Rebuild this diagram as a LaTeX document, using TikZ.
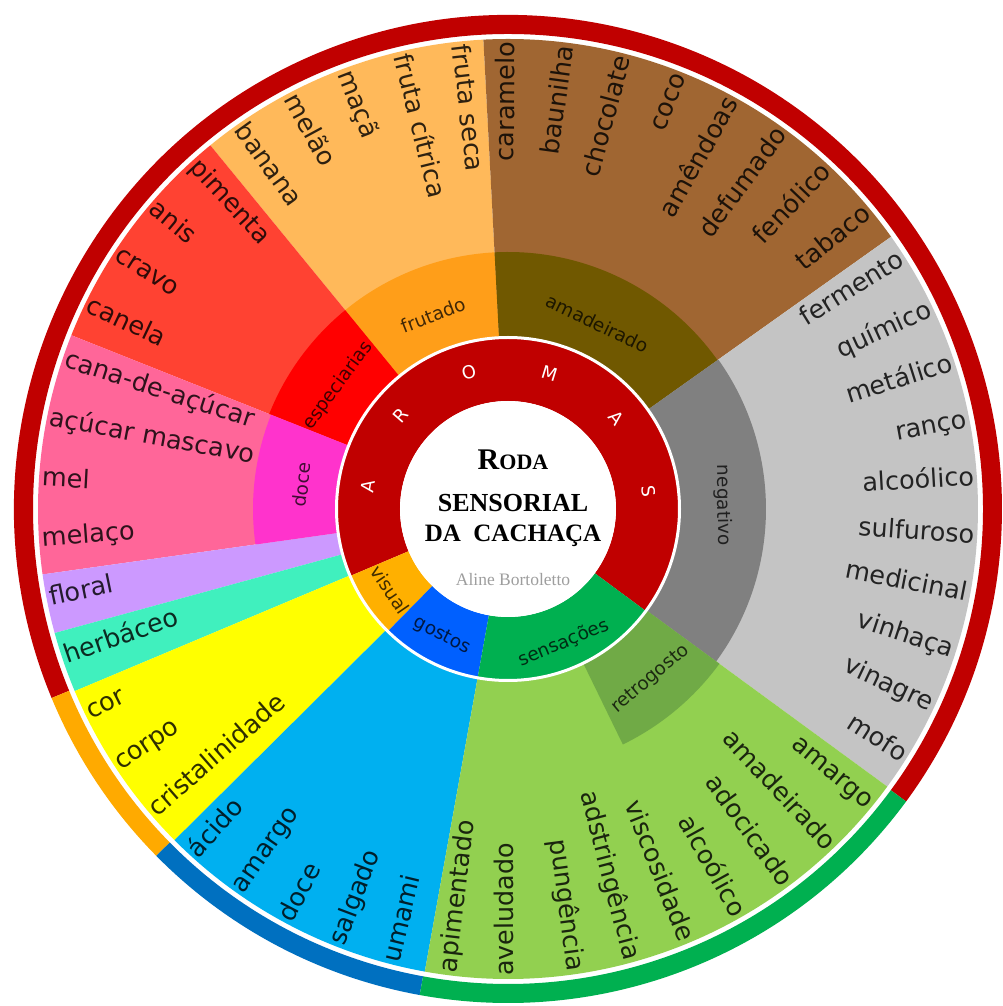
\documentclass[tikz,border=0pt]{standalone}
\usepackage{fontspec}
\newfontfamily\lab{DejaVu Sans}
\newfontfamily\ttl{Liberation Serif}
\definecolor{bandred}{RGB}{192,0,0}
\definecolor{bandorange}{RGB}{255,170,0}
\definecolor{bandblue}{RGB}{0,112,192}
\definecolor{bandgreen}{RGB}{0,176,80}
\definecolor{frutL}{RGB}{255,185,90}
\definecolor{frutC}{RGB}{255,158,25}
\definecolor{amadL}{RGB}{160,102,50}
\definecolor{amadC}{RGB}{112,88,0}
\definecolor{negL}{RGB}{196,196,196}
\definecolor{negC}{RGB}{128,128,128}
\definecolor{espL}{RGB}{255,66,50}
\definecolor{espC}{RGB}{255,0,0}
\definecolor{doceL}{RGB}{255,102,153}
\definecolor{doceC}{RGB}{255,51,204}
\definecolor{floralL}{RGB}{204,153,255}
\definecolor{herbL}{RGB}{64,240,190}
\definecolor{visL}{RGB}{255,255,0}
\definecolor{visC}{RGB}{255,176,0}
\definecolor{gosL}{RGB}{0,176,240}
\definecolor{gosC}{RGB}{0,96,255}
\definecolor{senL}{RGB}{146,208,80}
\definecolor{senC}{RGB}{0,176,80}
\definecolor{retroC}{RGB}{112,170,70}
\newcommand\annseg[5]{\fill[#1] (#2:#4pt) arc[start angle=#2,end angle=#3,radius=#4pt] -- (#3:#5pt) arc[start angle=#3,end angle=#2,radius=#5pt] -- cycle;}
\tikzset{
  leaf/.style={font=\lab\fontsize{25.5}{30}\selectfont, text=black, text opacity=0.82, inner sep=0pt, outer sep=0pt},
  catlab/.style={font=\lab\fontsize{18.5}{22}\selectfont, text=black, text opacity=0.75, inner sep=0pt},
  ringletter/.style={font=\lab\fontsize{18}{20}\selectfont, text=white, inner sep=0pt}
}
\newcommand\leafR[3]{\node[leaf,anchor=mid east,rotate=#2] (#1) at (#2:467pt) {#3};}
\newcommand\leafL[3]{\node[leaf,anchor=mid west,rotate=#2+180] (#1) at (#2:467pt) {#3};}
\begin{document}
\begin{tikzpicture}
\useasboundingbox (-508pt,-497pt) rectangle (494pt,509pt);
\fill[white] (-508pt,-497pt) rectangle (494pt,509pt);
% outer band
\annseg{bandred}{-36.3}{202.5}{475}{494}
\annseg{bandorange}{202.5}{224.6}{475}{494}
\annseg{bandblue}{224.6}{259.7}{475}{494}
\annseg{bandgreen}{259.7}{323.7}{475}{494}
% leaf wedges
\annseg{frutL}{93}{129.3}{172}{470}
\annseg{amadL}{35.4}{93}{172}{470}
\annseg{negL}{-36.2}{35.4}{172}{470}
\annseg{espL}{129.3}{158.3}{172}{470}
\annseg{doceL}{158.3}{188}{172}{470}
\annseg{floralL}{188}{195.3}{172}{470}
\annseg{herbL}{195.3}{202.8}{172}{470}
\annseg{visL}{202.8}{224.8}{172}{470}
\annseg{gosL}{224.8}{259.8}{172}{470}
\annseg{senL}{259.8}{323.8}{172}{470}
% category ring
\annseg{frutC}{93}{129.3}{172}{257}
\annseg{amadC}{35.4}{93}{172}{257}
\annseg{negC}{-36.2}{35.4}{172}{258}
\annseg{espC}{129.3}{158.3}{172}{257}
\annseg{doceC}{158.3}{188}{172}{255}
\annseg{retroC}{-64}{-36.2}{172}{262}
% inner ring
\annseg{bandred}{-36.5}{203}{108}{171}
\annseg{visC}{203}{225.5}{108}{171}
\annseg{gosC}{225.5}{259.8}{108}{171}
\annseg{senC}{259.8}{323.5}{108}{171}
\draw[white,line width=3pt] (0,0) circle (171.5pt);
\fill[white] (0,0) circle (108pt);
% AROMAS
\node[ringletter,rotate=81] (rA1) at (171:142pt) {A};
\node[ringletter,rotate=49] (rR) at (139:142pt) {R};
\node[ringletter,rotate=16] (rO) at (106:142pt) {O};
\node[ringletter,rotate=-17] (rM) at (73:142pt) {M};
\node[ringletter,rotate=-50] (rA2) at (40:142pt) {A};
\node[ringletter,rotate=-83] (rS) at (7:142pt) {S};
% category labels
\node[catlab,rotate=21.15] (cfrut) at (111.15:208pt) {frutado};
\node[catlab,rotate=-25.8] (camad) at (64.2:206pt) {amadeirado};
\node[catlab,rotate=-89] (cneg) at (1:215pt) {negativo};
\node[catlab,rotate=54] (cesp) at (144:210pt) {especiarias};
\node[catlab,rotate=83.3] (cdoce) at (173.3:208pt) {doce};
\node[catlab,rotate=40] (cretro) at (-50:222pt) {retrogosto};
\node[catlab,rotate=304.5] (cvis) at (214.5:143pt) {visual};
\node[catlab,rotate=332.5] (cgos) at (242.5:143pt) {gostos};
\node[catlab,rotate=22.5] (csen) at (-67.5:145pt) {sensações};
% leaves: frutado
\leafL{lfs}{96.63}{fruta seca}
\leafL{lfc}{103.89}{fruta cítrica}
\leafL{lmaca}{111.15}{maçã}
\leafL{lmelao}{118.41}{melão}
\leafL{lbanana}{125.67}{banana}
% amadeirado
\leafR{ltabaco}{38.99}{tabaco}
\leafR{lfenol}{46.2}{fenólico}
\leafR{ldefum}{53.4}{defumado}
\leafR{lamend}{60.6}{amêndoas}
\leafR{lcoco}{67.8}{coco}
\leafR{lchoc}{75.0}{chocolate}
\leafR{lbaun}{82.2}{baunilha}
\leafR{lcaram}{89.4}{caramelo}
% negativo
\leafR{lferm}{31.82}{fermento}
\leafR{lquim}{24.66}{químico}
\leafR{lmetal}{17.5}{metálico}
\leafR{lranco}{10.34}{ranço}
\leafR{lalc}{3.18}{alcoólico}
\leafR{lsulf}{-3.98}{sulfuroso}
\leafR{lmedic}{-11.14}{medicinal}
\leafR{lvinh}{-18.3}{vinhaça}
\leafR{lvinag}{-25.46}{vinagre}
\leafR{lmofo}{-32.62}{mofo}
% especiarias
\leafL{lpim}{132.9}{pimenta}
\leafL{lanis}{140.2}{anis}
\leafL{lcravo}{147.4}{cravo}
\leafL{lcanela}{154.7}{canela}
% doce
\leafL{lcana}{162.0}{cana-de-açúcar}
\leafL{lmascavo}{169.4}{açúcar mascavo}
\leafL{lmel}{176.9}{mel}
\leafL{lmelaco}{184.3}{melaço}
% floral, herbaceo
\leafL{lfloral}{191.65}{floral}
\leafL{lherb}{199.05}{herbáceo}
% visual
\leafL{lcor}{206.5}{cor}
\leafL{lcorpo}{213.8}{corpo}
\leafL{lcrist}{221.1}{cristalinidade}
% gostos
\leafL{lacido}{228.3}{ácido}
\leafL{lamargoG}{235.3}{amargo}
\leafL{ldoceG}{242.3}{doce}
\leafL{lsalg}{249.3}{salgado}
\leafL{lumami}{256.3}{umami}
% sensacoes
\leafL{lapim}{263.36}{apimentado}
\leafL{lavel}{270.47}{aveludado}
\leafR{lpung}{277.58}{pungência}
\leafR{ladst}{284.69}{adstringência}
\leafR{lvisc}{291.8}{viscosidade}
\leafR{lalcS}{298.9}{alcoólico}
\leafR{ladoc}{306.0}{adocicado}
\leafR{lamadS}{313.1}{amadeirado}
\leafR{lamargoS}{320.2}{amargo}
% title
\node[font=\ttl\bfseries\fontsize{30}{30}\selectfont, anchor=base, inner sep=0pt] (t1) at (5pt,39pt) {R{\fontsize{22}{22}\selectfont ODA}};
\node[font=\ttl\bfseries\fontsize{26}{26}\selectfont, anchor=base, inner sep=0pt] (t2) at (5pt,-3pt) {SENSORIAL};
\node[font=\ttl\bfseries\fontsize{25}{25}\selectfont, anchor=base, inner sep=0pt] (t3) at (5pt,-33pt) {DA\ \ CACHAÇA};
\node[font=\ttl\fontsize{17.5}{18}\selectfont, text=black!38, anchor=base, inner sep=0pt] (t4) at (5pt,-77pt) {Aline Bortoletto};
\end{tikzpicture}
\end{document}
